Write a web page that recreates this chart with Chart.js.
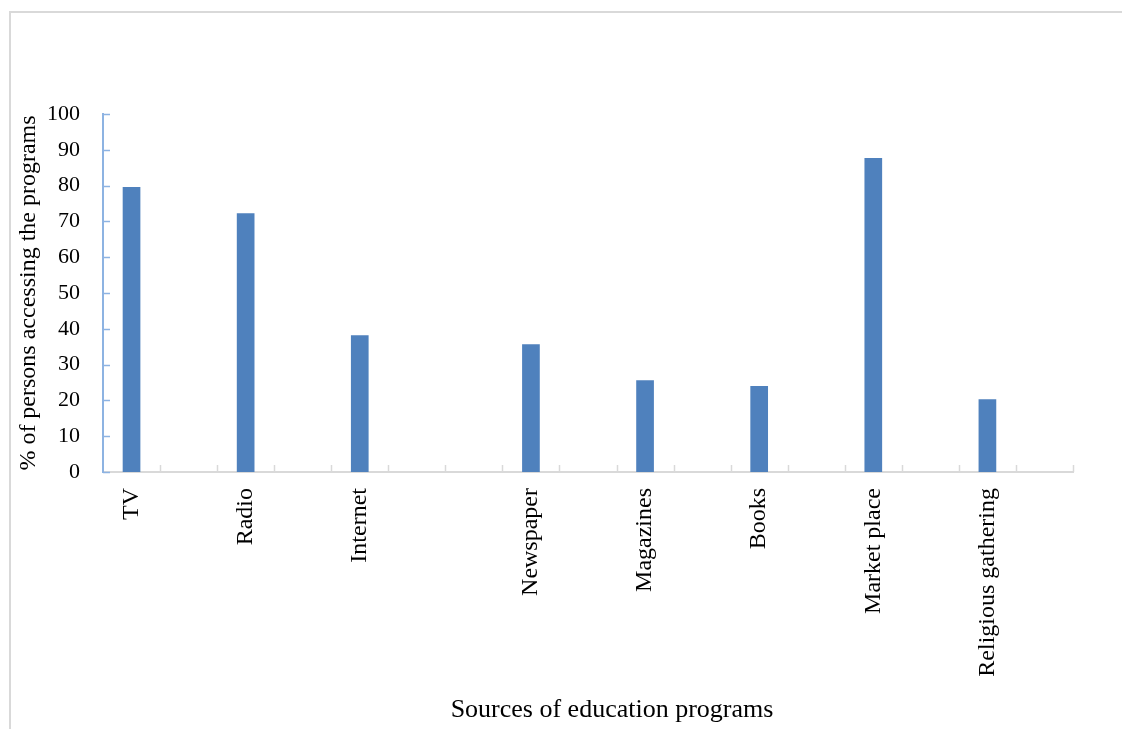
<!DOCTYPE html>
<html>
<head>
<meta charset="utf-8">
<script src="https://cdn.jsdelivr.net/npm/chart.js@4/dist/chart.umd.min.js"></script>
<style>
  html, body { margin: 0; padding: 0; background: #fff; overflow: hidden; }
  #frame {
    position: absolute; left: 9px; top: 11px; width: 1200px; height: 800px;
    border: 2px solid #d9d9d9;
  }
  #wrap { position: absolute; left: 0; top: 0; width: 1122px; height: 729px; }
  #xTitle {
    position: absolute; top: 694px; left: 612px; transform: translateX(-50%);
    font-family: "Liberation Serif", "Times New Roman", serif; font-size: 26px;
    white-space: nowrap; color: #000;
  }
</style>
</head>
<body>
<div id="frame"></div>
<div id="wrap"><canvas id="sourcesChart" width="1122" height="729"></canvas></div>
<div id="xTitle">Sources of education programs</div>
<script>
// sources (blank labels are the empty slots on the axis)
const categories = [
  'TV', '', 'Radio', '', 'Internet', '', '', 'Newspaper', '',
  'Magazines', '', 'Books', '', 'Market place', '', 'Religious gathering', ''
];
const pctAccessing = [
  79.6, null, 72.3, null, 38.2, null, null, 35.7, null,
  25.6, null, 24.0, null, 87.7, null, 20.3, null
];
const yTicks = [0, 10, 20, 30, 40, 50, 60, 70, 80, 90, 100];

const serif = '"Liberation Serif", "Times New Roman", serif';
const blueAxis = '#8db3e2';
const greyAxis = '#d9d9d9';

// Excel style tick marks that point into the plot
const innerTicks = {
  id: 'innerTicks',
  afterDraw(chart) {
    const { ctx, scales: { x, y } } = chart;
    ctx.save();
    ctx.lineWidth = 1.5;
    ctx.strokeStyle = blueAxis;
    yTicks.forEach(v => {
      const py = Math.round(y.getPixelForValue(v)) + 0.5;
      ctx.beginPath();
      ctx.moveTo(x.left, py);
      ctx.lineTo(x.left + 7, py);
      ctx.stroke();
    });
    ctx.strokeStyle = greyAxis;
    const n = categories.length;
    for (let i = 1; i <= n; i++) {
      const px = Math.round(x.left + i * (x.right - x.left) / n) + 0.5;
      ctx.beginPath();
      ctx.moveTo(px, y.bottom);
      ctx.lineTo(px, y.bottom - 7);
      ctx.stroke();
    }
    ctx.restore();
  }
};

new Chart(document.getElementById('sourcesChart'), {
  type: 'bar',
  data: {
    labels: categories,
    datasets: [{
      label: '% accessing',
      data: pctAccessing,
      backgroundColor: '#4f81bd',
      borderWidth: 0,
      barPercentage: 1,
      categoryPercentage: 0.31,
    }],
  },
  options: {
    responsive: false,
    animation: false,
    devicePixelRatio: 1,
    layout: { padding: { left: 14, right: 49, top: 114, bottom: 0 } },
    plugins: { legend: { display: false }, tooltip: { enabled: false } },
    scales: {
      x: {
        grid: { display: false, drawTicks: false },
        border: { display: true, color: greyAxis, width: 2 },
        ticks: {
          autoSkip: false, maxRotation: 90, minRotation: 90,
          padding: 16, color: '#000', font: { family: serif, size: 24 },
        },
        afterFit(scale) { scale.height = 729 - 472; },
      },
      y: {
        min: 0, max: 100,
        afterBuildTicks(scale) { scale.ticks = yTicks.map(v => ({ value: v })); },
        grid: { display: false, drawTicks: false },
        border: { display: true, color: blueAxis, width: 2 },
        ticks: { padding: 23, color: '#000', font: { family: serif, size: 22 } },
        title: {
          display: true, text: '% of persons accessing the programs',
          color: '#000', font: { family: serif, size: 24 }, padding: { top: 0, bottom: 2 },
        },
        afterFit(scale) { scale.width = 103 - 14; },
      },
    },
  },
  plugins: [innerTicks],
});
</script>
</body>
</html>
